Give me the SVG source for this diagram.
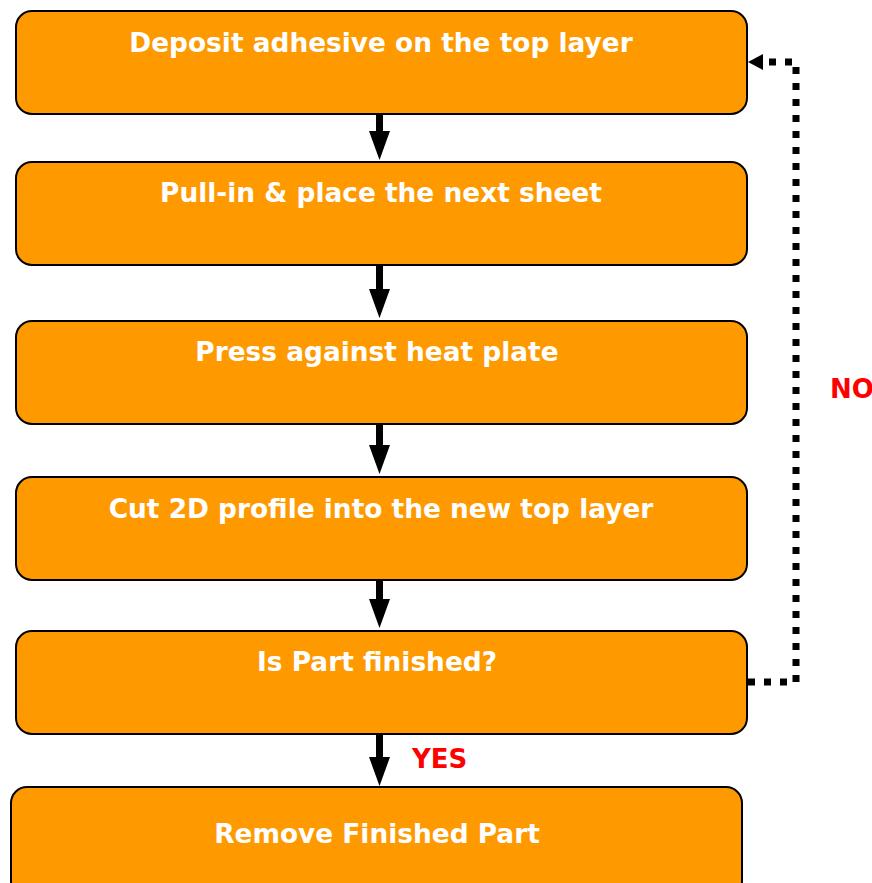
<svg xmlns="http://www.w3.org/2000/svg" xmlns:xlink="http://www.w3.org/1999/xlink" width="872" height="883" viewBox="0 0 872 883">
<style>
.box{fill:#FF9900;stroke:#000;stroke-width:2}
.lbl{font-family:"DejaVu Sans",Verdana,sans-serif;font-weight:bold;font-size:26.4px;fill:#fff;text-anchor:middle}
.red{font-family:"DejaVu Sans",Verdana,sans-serif;font-weight:bold;font-size:26px;fill:#FF0000}
.flow{stroke:#000;stroke-width:7;fill:none}
.loop{stroke:#000;stroke-width:7;fill:none;stroke-dasharray:7 9}
</style>
<defs>
<path id="head" d="M-10.5,-29 L10.5,-29 L0,0 Z" fill="#000"/>
<path id="head2" d="M15,-8 L15,8 L0,0 Z" fill="#000"/>
</defs>
<g id="connectors">
<line class="flow" x1="379.5" y1="114" x2="379.5" y2="132"/>
<use href="#head" xlink:href="#head" x="379.5" y="160"/>
<line class="flow" x1="379.5" y1="265" x2="379.5" y2="290"/>
<use href="#head" xlink:href="#head" x="379.5" y="318"/>
<line class="flow" x1="379.5" y1="424" x2="379.5" y2="446"/>
<use href="#head" xlink:href="#head" x="379.5" y="474"/>
<line class="flow" x1="379.5" y1="580" x2="379.5" y2="600"/>
<use href="#head" xlink:href="#head" x="379.5" y="628"/>
<line class="flow" x1="379.5" y1="734" x2="379.5" y2="758"/>
<use href="#head" xlink:href="#head" x="379.5" y="786"/>
<path class="loop" d="M748,682 H796 V62 H764"/>
<use href="#head2" xlink:href="#head2" x="748" y="62"/>
<text class="red" x="412" y="768">YES</text>
<text class="red" x="830" y="398">NO</text>
</g>
<g id="n1"><rect class="box" x="16" y="11" width="731" height="103" rx="16"/><text class="lbl" x="381" y="52">Deposit adhesive on the top layer</text></g>
<g id="n2"><rect class="box" x="16" y="162" width="731" height="103" rx="16"/><text class="lbl" x="381" y="202">Pull-in &amp; place the next sheet</text></g>
<g id="n3"><rect class="box" x="16" y="321" width="731" height="103" rx="16"/><text class="lbl" x="377" y="361">Press against heat plate</text></g>
<g id="n4"><rect class="box" x="16" y="477" width="731" height="103" rx="16"/><text class="lbl" x="381" y="518">Cut 2D profile into the new top layer</text></g>
<g id="n5"><rect class="box" x="16" y="631" width="731" height="103" rx="16"/><text class="lbl" x="377" y="671">Is Part finished?</text></g>
<g id="n6"><rect class="box" x="11" y="787" width="731" height="110" rx="16"/><text class="lbl" x="377" y="843">Remove Finished Part</text></g>
</svg>
